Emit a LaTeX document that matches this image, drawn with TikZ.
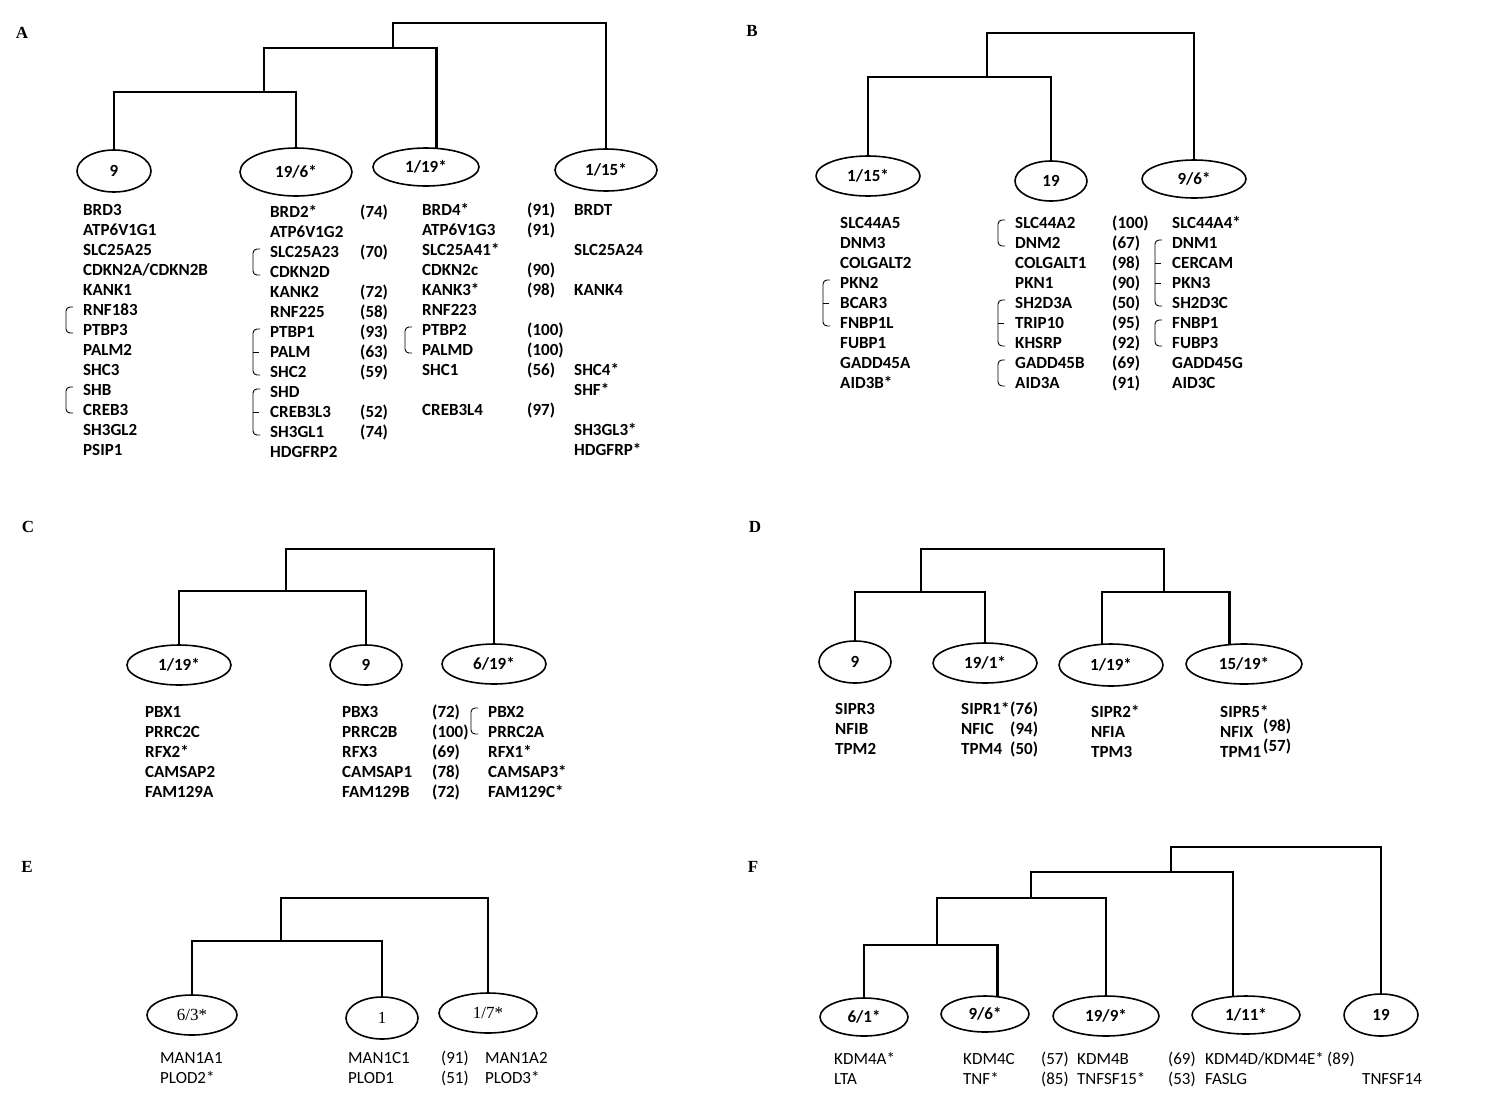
\documentclass[tikz,border=0pt]{standalone}
\usepackage{fontspec}
\usepackage{tikz}
\usetikzlibrary{shapes.geometric}
\newfontfamily\calib{Carlito}
\newfontfamily\timesf{Liberation Serif}
\newcommand{\genefont}{\calib\bfseries\fontsize{17}{20}\selectfont}
\newcommand{\genelight}{\calib\fontsize{17}{20}\selectfont}
\newcommand{\serifnum}{\timesf\fontsize{17}{20}\selectfont}
\newcommand{\letterfont}{\timesf\bfseries\fontsize{17}{20}\selectfont}
% paralog brackets
\newcommand{\grp}[3]{\draw[brk] (#1+7,#2-3) -- (#1,#2-3) -- (#1,#3+3) -- (#1+7,#3+3);}
\newcommand{\gtick}[2]{\draw[brk] (#1,#2) -- (#1+6,#2);}
\tikzset{
  branch/.style={line width=2.8pt},
  chrom/.style 2 args={draw, ellipse, line width=1.6pt, inner sep=0pt, minimum width=#1, minimum height=#2, font=\genefont},
  genes/.style={anchor=north west, inner sep=0pt, align=left, font=\genefont},
  lgenes/.style={genes, font=\genelight},
  panel/.style={font=\letterfont},
  brk/.style={line width=0.9pt, rounded corners=4pt}
}
\begin{document}
\begin{tikzpicture}[x=1pt, y=-1pt]
  \useasboundingbox (0,0) rectangle (1495,1098);

  % ---------------- A ----------------
  \node[panel] (lA) at (22,33) {A};
  \node[chrom={74}{42}] (a1) at (114,171) {9};
  \node[chrom={112}{48}] (a2) at (296,172) {19/6*};
  \node[chrom={106}{38}] (a3) at (426,167) {1/19*};
  \node[chrom={102}{42}] (a4) at (606,170) {1/15*};
  \coordinate (A1) at (264,92);
  \coordinate (A2) at (393,48);
  \coordinate (A3) at (393,23);
  \draw[branch] (a1) |- (A1) -| (a2);
  \draw[branch] (A1) |- (A2) -| (a3.62);
  \draw[branch] (A2) -- (A3) -| (a4);
  % gene lists
  \node[genes] (A-g1) at (83,201.5) {\strut BRD3\\ATP6V1G1\\SLC25A25\\CDKN2A/CDKN2B\\KANK1\\RNF183\\PTBP3\\PALM2\\SHC3\\SHB\\CREB3\\SH3GL2\\PSIP1};
  \node[genes] (A-g2) at (270,203.5) {\strut BRD2*\\ATP6V1G2\\SLC25A23\\CDKN2D\\KANK2\\RNF225\\PTBP1\\PALM\\SHC2\\SHD\\CREB3L3\\SH3GL1\\HDGFRP2};
  \node[genes] (A-n1) at (360,203.5) {\strut (74)\\\mbox{}\\(70)\\\mbox{}\\(72)\\(58)\\(93)\\(63)\\(59)\\\mbox{}\\(52)\\(74)};
  \node[genes] (A-g3) at (422,201.5) {\strut BRD4*\\ATP6V1G3\\SLC25A41*\\CDKN2c\\KANK3*\\RNF223\\PTBP2\\PALMD\\SHC1\\\mbox{}\\CREB3L4};
  \node[genes] (A-n2) at (527,201.5) {\strut (91)\\(91)\\\mbox{}\\(90)\\(98)\\\mbox{}\\(100)\\(100)\\(56)\\\mbox{}\\(97)};
  \node[genes] (A-g4) at (574,201.5) {\strut BRDT\\\mbox{}\\SLC25A24\\\mbox{}\\KANK4\\\mbox{}\\\mbox{}\\\mbox{}\\SHC4*\\SHF*\\\mbox{}\\SH3GL3*\\HDGFRP*};
  \grp{66}{310}{330}
  \grp{66}{390}{410}
  \grp{253}{252}{272}
  \grp{253}{332}{372} \gtick{253}{352}
  \grp{253}{392}{432} \gtick{253}{412}
  \grp{405}{330}{350}

  % ---------------- B ----------------
  \node[panel] (lB) at (752,31) {B};
  \node[chrom={104}{40}] (b1) at (868,176) {1/15*};
  \node[chrom={72}{40}] (b2) at (1051,181) {19};
  \node[chrom={104}{38}] (b3) at (1194,179) {9/6*};
  \coordinate (B1) at (987,77);
  \coordinate (B2) at (987,33);
  \draw[branch] (b1) |- (B1) -| (b2);
  \draw[branch] (B1) -- (B2) -| (b3);
  \node[genes] (B-g1) at (840,214.5) {\strut SLC44A5\\DNM3\\COLGALT2\\PKN2\\BCAR3\\FNBP1L\\FUBP1\\GADD45A\\AID3B*};
  \node[genes] (B-g2) at (1015,214.5) {\strut SLC44A2\\DNM2\\COLGALT1\\PKN1\\SH2D3A\\TRIP10\\KHSRP\\GADD45B\\AID3A};
  \node[genes] (B-n1) at (1112,214.5) {\strut (100)\\(67)\\(98)\\(90)\\(50)\\(95)\\(92)\\(69)\\(91)};
  \node[genes] (B-g3) at (1172,214.5) {\strut SLC44A4*\\DNM1\\CERCAM\\PKN3\\SH2D3C\\FNBP1\\FUBP3\\GADD45G\\AID3C};
  \grp{823}{283}{323} \gtick{823}{303}
  \grp{998}{223}{243}
  \grp{998}{303}{343} \gtick{998}{323}
  \grp{998}{363}{383}
  \grp{1155}{243}{303} \gtick{1155}{263} \gtick{1155}{283}
  \grp{1155}{323}{343}

  % ---------------- C ----------------
  \node[panel] (lC) at (28,527) {C};
  \node[chrom={104}{40}] (c1) at (179,665) {1/19*};
  \node[chrom={72}{40}] (c2) at (366,665) {9};
  \node[chrom={104}{40}] (c3) at (494,664) {6/19*};
  \coordinate (C1) at (286,591);
  \coordinate (C2) at (286,549);
  \draw[branch] (c1) |- (C1) -| (c2);
  \draw[branch] (C1) -- (C2) -| (c3);
  \node[genes] (C-g1) at (145,703) {\strut PBX1\\PRRC2C\\RFX2*\\CAMSAP2\\FAM129A};
  \node[genes] (C-g2) at (342,703) {\strut PBX3\\PRRC2B\\RFX3\\CAMSAP1\\FAM129B};
  \node[genes] (C-n1) at (432,703) {\strut (72)\\(100)\\(69)\\(78)\\(72)};
  \node[genes] (C-g3) at (488,703) {\strut PBX2\\PRRC2A\\RFX1*\\CAMSAP3*\\FAM129C*};
  \grp{471}{711}{731}

  % ---------------- D ----------------
  \node[panel] (lD) at (755,527) {D};
  \node[chrom={72}{42}] (d1) at (855,662) {9};
  \node[chrom={104}{40}] (d2) at (985,663) {19/1*};
  \node[chrom={104}{42}] (d3) at (1111,665) {1/19*};
  \node[chrom={116}{40}] (d4) at (1244,664) {15/19*};
  \coordinate (D1) at (921,592);
  \coordinate (D2) at (1164,592);
  \coordinate (D3) at (921,549);
  \draw[branch] (d1) |- (D1) -| (d2);
  \draw[branch] (d3.113) |- (D2) -| (d4.126);
  \draw[branch] (D1) -- (D3) -| (D2);
  \node[genes] (D-g1) at (835,700.5) {\strut SIPR3\\NFIB\\TPM2};
  \node[genes] (D-g2) at (961,700.5) {\strut SIPR1*\\NFIC\\TPM4};
  \node[genes] (D-n1) at (1010,700.5) {\strut (76)\\(94)\\(50)};
  \node[genes] (D-g3) at (1091,703.5) {\strut SIPR2*\\NFIA\\TPM3};
  \node[genes] (D-g4) at (1220,703.5) {\strut SIPR5*\\NFIX\\TPM1};
  \node[genes] (D-n2) at (1263,717.5) {\strut (98)\\(57)};

  % ---------------- E ----------------
  \node[panel] (lE) at (27,867) {E};
  \node[chrom={90}{40}, font=\serifnum] (e1) at (192,1015) {6/3*};
  \node[chrom={72}{42}, font=\serifnum] (e2) at (382,1018) {1};
  \node[chrom={98}{40}, font=\serifnum] (e3) at (488,1013) {1/7*};
  \coordinate (E1) at (281,941);
  \coordinate (E2) at (281,898);
  \draw[branch] (e1) |- (E1) -| (e2);
  \draw[branch] (E1) -- (E2) -| (e3);
  \node[lgenes] (E-g1) at (160,1049.5) {\strut MAN1A1\\PLOD2*};
  \node[lgenes] (E-g2) at (348,1049.5) {\strut MAN1C1\\PLOD1};
  \node[lgenes] (E-n1) at (441,1049.5) {\strut (91)\\(51)};
  \node[lgenes] (E-g3) at (485,1049.5) {\strut MAN1A2\\PLOD3*};

  % ---------------- F ----------------
  \node[panel] (lF) at (753,867) {F};
  \node[chrom={88}{38}] (f1) at (864,1017) {6/1*};
  \node[chrom={88}{36}] (f2) at (985,1014) {9/6*};
  \node[chrom={106}{40}] (f3) at (1106,1016) {19/9*};
  \node[chrom={108}{38}] (f4) at (1246,1015) {1/11*};
  \node[chrom={74}{42}] (f5) at (1381,1015) {19};
  \coordinate (F1) at (937,945);
  \coordinate (F2) at (1031,898);
  \coordinate (F3) at (1171,872);
  \coordinate (F4) at (1171,847);
  \draw[branch] (f1) |- (F1) -| (f2.55);
  \draw[branch] (F1) |- (F2) -| (f3);
  \draw[branch] (F2) |- (F3) -| (f4.124);
  \draw[branch] (F3) -- (F4) -| (f5);
  \node[lgenes] (F-g1) at (834,1050.5) {\strut KDM4A*\\LTA};
  \node[lgenes] (F-g2) at (963,1050.5) {\strut KDM4C\\TNF*};
  \node[lgenes] (F-n1) at (1041,1050.5) {\strut (57)\\(85)};
  \node[lgenes] (F-g3) at (1077,1050.5) {\strut KDM4B\\TNFSF15*};
  \node[lgenes] (F-n2) at (1168,1050.5) {\strut (69)\\(53)};
  \node[lgenes] (F-g4) at (1205,1050.5) {\strut KDM4D/KDM4E*\\FASLG};
  \node[lgenes] (F-n3) at (1327,1050.5) {\strut (89)};
  \node[lgenes] (F-g5) at (1362,1070.5) {\strut TNFSF14};
\end{tikzpicture}
\end{document}
